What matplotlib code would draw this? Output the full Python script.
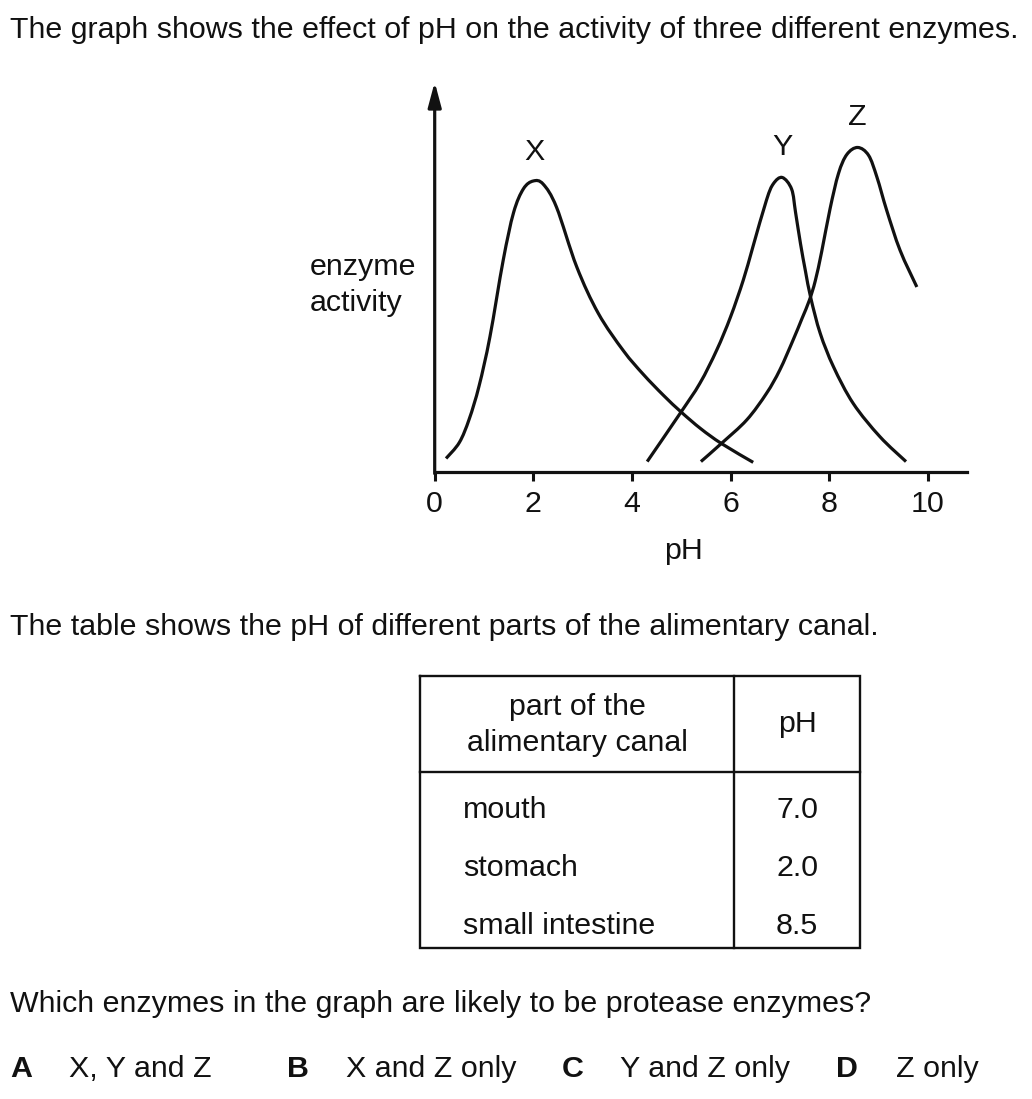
import numpy as np
import matplotlib
matplotlib.use("Agg")
import matplotlib.pyplot as plt
from matplotlib.path import Path
from matplotlib.patches import PathPatch

plt.rcParams['font.family'] = ['Liberation Sans', 'DejaVu Sans']

# ---- data ----
x_ph = [0.23, 0.5, 0.7, 0.9, 1.12, 1.39, 1.6, 1.8, 2.0, 2.2, 2.47, 2.88, 3.32, 3.83, 4.23, 4.64,
        5.0, 5.4, 5.82, 6.46]
x_act = [3.4, 7.5, 13.5, 22.0, 34.6, 54.3, 66.5, 72.6, 74.6, 73.8, 67.9, 52.6, 40.6, 31.0, 25.0,
         19.6, 15.3, 11.0, 7.2, 2.4]

y_ph = [4.31, 4.98, 5.38, 5.72, 6.0, 6.26, 6.45, 6.73, 6.87, 7.05, 7.24, 7.32, 7.42, 7.52, 7.63,
        7.82, 8.09, 8.49, 9.03, 9.56]
y_act = [2.6, 15.0, 22.7, 31.2, 39.7, 49.2, 57.5, 69.7, 73.9, 75.5, 72.5, 66.5, 58.5, 51.5, 44.5,
         35.5, 26.9, 17.5, 9.0, 2.6]

z_ph = [5.4, 5.82, 6.33, 6.73, 7.0, 7.27, 7.45, 7.6, 7.72, 7.85, 8.02, 8.19, 8.36, 8.58, 8.80,
        8.97, 9.17, 9.44, 9.78]
z_act = [2.6, 7.3, 13.3, 20.1, 26.1, 33.8, 39.3, 44.0, 49.0, 56.5, 67.5, 76.5, 81.4, 83.2, 81.2,
         75.6, 67.0, 56.8, 47.4]

curve_names = ["X", "Y", "Z"]
x_ticks = [0, 2, 4, 6, 8, 10]

table_header = ["part of the\nalimentary canal", "pH"]
table_parts = ["mouth", "stomach", "small intestine"]
table_ph = ["7.0", "2.0", "8.5"]

option_letters = ["A", "B", "C", "D"]
option_texts = ["X, Y and Z", "X and Z only", "Y and Z only", "Z only"]

INK = "#111111"
FS = 21.9

W, H = 1032, 1099
fig = plt.figure(figsize=(W / 100, H / 100), dpi=100)


def fx(px):
    return px / W


def fy(py):
    return 1 - py / H


# ---- graph ----
ax_left, ax_right = 434.7, 967
ax_bottom, ax_top = 471.7, 82
ax = fig.add_axes([fx(ax_left), fy(ax_bottom), (ax_right - ax_left) / W, (ax_bottom - ax_top) / H])
ax.set_xlim(0, (ax_right - ax_left) / 49.3)
ax.set_ylim(0, 100)
for s in ["top", "right", "left"]:
    ax.spines[s].set_visible(False)
ax.spines["bottom"].set_linewidth(2.3)
ax.spines["bottom"].set_color(INK)
ax.set_xticks(x_ticks)
ax.set_xticklabels([str(t) for t in x_ticks])
ax.set_yticks([])
ax.tick_params(axis="x", direction="out", length=6.5, width=2.2, color=INK,
               labelsize=FS, labelcolor=INK, pad=7)
ax.patch.set_alpha(0)

# y axis with arrow head
ax.annotate("", xy=(0, 100), xytext=(0, -0.5), xycoords="data",
            arrowprops=dict(arrowstyle="-|>,head_length=0.75,head_width=0.2",
                            lw=2.3, color=INK, mutation_scale=20,
                            shrinkA=0, shrinkB=0),
            annotation_clip=False)


def smooth_path(xs, ys):
    pts = np.column_stack([xs, ys])
    n = len(pts)
    verts = [pts[0]]
    codes = [Path.MOVETO]
    for i in range(n - 1):
        p0 = pts[i - 1] if i > 0 else pts[i]
        p1 = pts[i]
        p2 = pts[i + 1]
        p3 = pts[i + 2] if i + 2 < n else pts[i + 1]
        c1 = p1 + (p2 - p0) / 6.0
        c2 = p2 - (p3 - p1) / 6.0
        verts += [c1, c2, p2]
        codes += [Path.CURVE4] * 3
    return Path(verts, codes)


for xs, ys in [(x_ph, x_act), (y_ph, y_act), (z_ph, z_act)]:
    patch = PathPatch(smooth_path(xs, ys), fill=False, lw=2.3, edgecolor=INK,
                      capstyle="butt", joinstyle="round", clip_on=False)
    ax.add_patch(patch)

label_pos = [(2.02, 82.0), (7.05, 83.3), (8.57, 91.0)]
for name, (lx, ly) in zip(curve_names, label_pos):
    ax.text(lx, ly, name, ha="center", va="center", fontsize=FS, color=INK)

fig.text(fx(683), fy(551), "pH", ha="center", va="center", fontsize=FS, color=INK)
fig.text(fx(310), fy(285), "enzyme\nactivity", ha="left", va="center",
         fontsize=FS, color=INK, linespacing=1.33)

# ---- texts ----
fig.text(fx(10), fy(30), "The graph shows the effect of pH on the activity of three different enzymes.",
         ha="left", va="center", fontsize=FS, color=INK)
fig.text(fx(10), fy(627), "The table shows the pH of different parts of the alimentary canal.",
         ha="left", va="center", fontsize=FS, color=INK)
fig.text(fx(10), fy(1004), "Which enzymes in the graph are likely to be protease enzymes?",
         ha="left", va="center", fontsize=FS, color=INK)

letter_x = [10, 287, 562, 836]
text_x = [69, 346, 620, 896]
for L, T, lx, tx in zip(option_letters, option_texts, letter_x, text_x):
    fig.text(fx(lx), fy(1069), L, ha="left", va="center", fontsize=FS,
             fontweight="bold", color=INK)
    fig.text(fx(tx), fy(1069), T, ha="left", va="center", fontsize=FS, color=INK)

# ---- table ----
tab = fig.add_axes([0, 0, 1, 1])
tab.set_xlim(0, W)
tab.set_ylim(H, 0)
tab.axis("off")
tab.patch.set_alpha(0)
t_l, t_r, t_t, t_b = 420, 860, 676, 948
t_mid, t_head = 734, 772
lw_t = 1.7
tab.plot([t_l, t_r, t_r, t_l, t_l], [t_t, t_t, t_b, t_b, t_t], color=INK, lw=lw_t,
         solid_joinstyle="miter")
tab.plot([t_mid, t_mid], [t_t, t_b], color=INK, lw=lw_t)
tab.plot([t_l, t_r], [t_head, t_head], color=INK, lw=lw_t)

tab.text((t_l + t_mid) / 2, 725, table_header[0], ha="center", va="center",
         fontsize=FS, color=INK, linespacing=1.33)
tab.text((t_mid + t_r) / 2, 724, table_header[1], ha="center", va="center",
         fontsize=FS, color=INK)
row_y = [810, 868, 926]
for part, ph, ry in zip(table_parts, table_ph, row_y):
    tab.text(463, ry, part, ha="left", va="center", fontsize=FS, color=INK)
    tab.text((t_mid + t_r) / 2, ry, ph, ha="center", va="center", fontsize=FS, color=INK)

fig.savefig("out.png", dpi=100, facecolor="white")
